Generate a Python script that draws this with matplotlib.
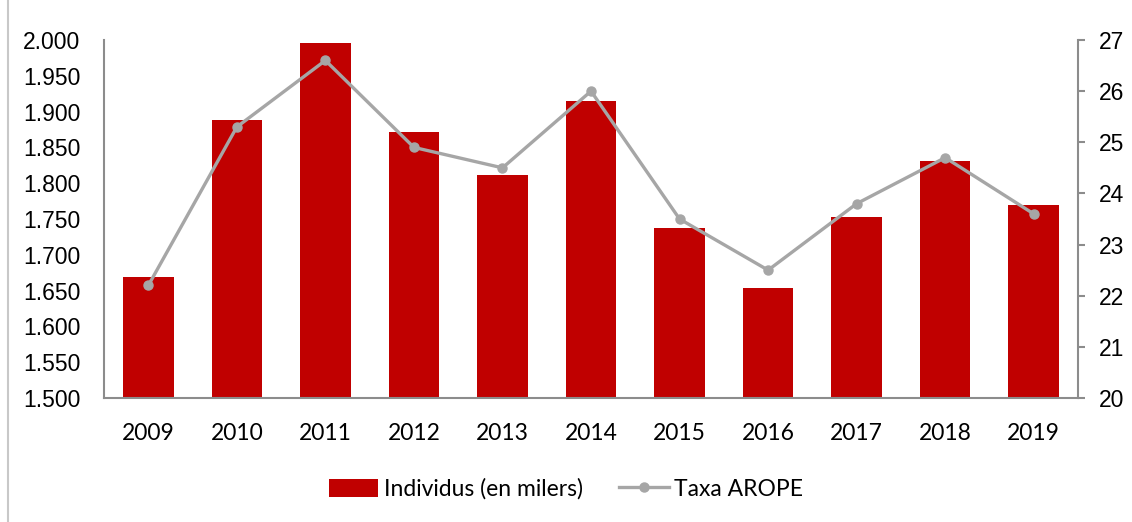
import matplotlib.pyplot as plt
from matplotlib.patches import Rectangle

years = ['2009', '2010', '2011', '2012', '2013', '2014', '2015', '2016', '2017', '2018', '2019']
individus = [1.669, 1.888, 1.996, 1.872, 1.811, 1.915, 1.737, 1.654, 1.753, 1.831, 1.770]
taxa_arope = [22.2, 25.3, 26.6, 24.9, 24.5, 26.0, 23.5, 22.5, 23.8, 24.7, 23.6]
left_ticks = [1.500, 1.550, 1.600, 1.650, 1.700, 1.750, 1.800, 1.850, 1.900, 1.950, 2.000]
right_ticks = [20, 21, 22, 23, 24, 25, 26, 27]

narrow = ['Liberation Sans', 'DejaVu Sans']
body = ['Lato', 'DejaVu Sans']
plt.rcParams['font.family'] = body

fig = plt.figure(figsize=(11.32, 5.22), dpi=100)
ax = fig.add_axes([0.0919, 0.2375, 0.8604, 0.6859])

x = list(range(len(years)))
bars = ax.bar(x, individus, width=0.57, color='#C00000', label='Individus (en milers)', zorder=2)
ax.set_ylim(1.5, 2.0)
ax.set_xlim(-0.5, len(years) - 0.5)
ax.set_yticks(left_ticks)
ax.set_yticklabels([f'{v:.3f}' for v in left_ticks], family=narrow, fontsize=16.5)
ax.set_xticks(x)
ax.set_xticklabels(years, fontsize=16.5)
ax.tick_params(axis='both', length=0, colors='black')
ax.tick_params(axis='x', pad=18)
ax.tick_params(axis='y', pad=17)

ax2 = ax.twinx()
line, = ax2.plot(x, taxa_arope, color='#A6A6A6', linewidth=2.4, marker='o',
                 markersize=6.5, label='Taxa AROPE', zorder=3)
ax2.set_ylim(20, 27)
ax2.set_yticks(right_ticks)
ax2.set_yticklabels([str(v) for v in right_ticks], family=narrow, fontsize=16.5)
ax2.tick_params(axis='y', length=5, width=1.5, color='#8C8C8C', pad=10)

for a in (ax, ax2):
    a.spines['top'].set_visible(False)
    for s in ('left', 'right', 'bottom'):
        a.spines[s].set_color('#8C8C8C')
        a.spines[s].set_linewidth(1.5)
ax.spines['right'].set_visible(False)
ax2.spines['left'].set_visible(False)
ax2.spines['bottom'].set_visible(False)

fig.legend([bars, line], ['Individus (en milers)', 'Taxa AROPE'],
           loc='center', bbox_to_anchor=(0.5, 0.063), ncol=2, frameon=False,
           handlelength=2.15, handleheight=0.85, handletextpad=0.25, columnspacing=1.6,
           prop={'family': body, 'size': 16.5})

fig.patches.append(Rectangle((8 / 1132, -0.01), 1.2, 1.2, transform=fig.transFigure,
                             fill=False, edgecolor='#C8C8C8', linewidth=1.5))

fig.savefig('out.png', dpi=100)
